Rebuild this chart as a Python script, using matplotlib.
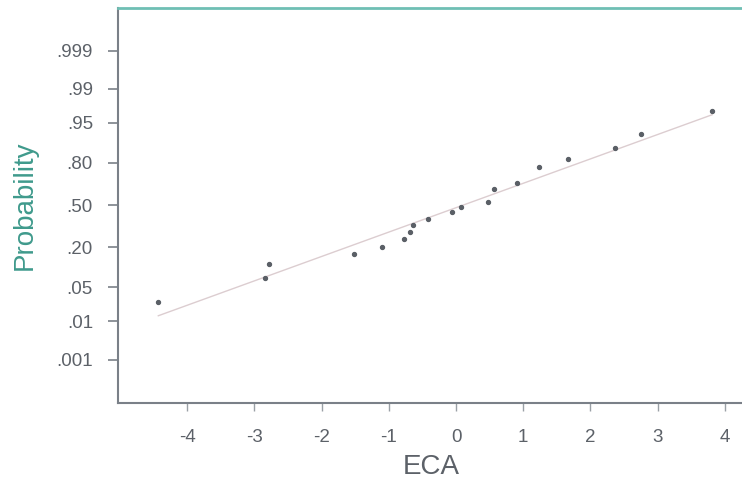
import matplotlib.pyplot as plt
import numpy as np
from statistics import NormalDist

plt.rcParams['font.family'] = ['Liberation Sans', 'DejaVu Sans']

# sorted ECA values and their cumulative probabilities
eca = [-4.43, -2.84, -2.79, -1.52, -1.10, -0.78, -0.69, -0.64, -0.42, -0.06,
       0.07, 0.48, 0.57, 0.91, 1.24, 1.66, 2.37, 2.75, 3.81]
prob = [0.026, 0.072, 0.119, 0.164, 0.20, 0.248, 0.295, 0.345, 0.39, 0.444,
        0.484, 0.524, 0.626, 0.67, 0.776, 0.82, 0.873, 0.922, 0.97]

# fitted normal reference line
fit_mean = 0.11
fit_sd = 2.05

prob_ticks = [0.999, 0.99, 0.95, 0.80, 0.50, 0.20, 0.05, 0.01, 0.001]
prob_labels = ['.999', '.99', '.95', '.80', '.50', '.20', '.05', '.01', '.001']
x_ticks = [-4, -3, -2, -1, 0, 1, 2, 3, 4]

nd = NormalDist()
z_pts = [nd.inv_cdf(p) for p in prob]
z_ticks = [nd.inv_cdf(p) for p in prob_ticks]

fig = plt.figure(figsize=(7.42, 4.83), dpi=100)
ax = fig.add_axes([0.159, 0.1656, 0.845, 0.8178])

xl = np.array([min(eca), max(eca)])
ax.plot(xl, (xl - fit_mean) / fit_sd, color='#dccdd0', lw=1.0, zorder=1)
ax.scatter(eca, z_pts, s=8, color='#5a5f66', zorder=2)

ax.set_xlim(-5.03, 4.3)
ax.set_ylim(-3.96, 3.94)
ax.set_xticks(x_ticks)
ax.set_xticklabels([str(t) for t in x_ticks])
ax.set_yticks(z_ticks)
ax.set_yticklabels(prob_labels)

tick_col = '#5c6168'
ax.tick_params(axis='y', direction='out', length=7, width=1.2, pad=11,
               colors='#7a8088', labelcolor=tick_col, labelsize=13.5)
ax.tick_params(axis='x', direction='out', length=6, width=1.0, pad=13,
               colors='#9aa0a6', labelcolor=tick_col, labelsize=13.5)

for s in ['left', 'bottom']:
    ax.spines[s].set_color('#7a8088')
    ax.spines[s].set_linewidth(1.5)
ax.spines['top'].set_color('#6fbfb4')
ax.spines['top'].set_linewidth(2)
ax.spines['right'].set_visible(False)

ax.set_xlabel('ECA', fontsize=20, color='#5c6168', labelpad=5.5)
ax.set_ylabel('Probability', fontsize=20, color='#3f9a8c', labelpad=13.5)

fig.savefig('out.png', dpi=100)
